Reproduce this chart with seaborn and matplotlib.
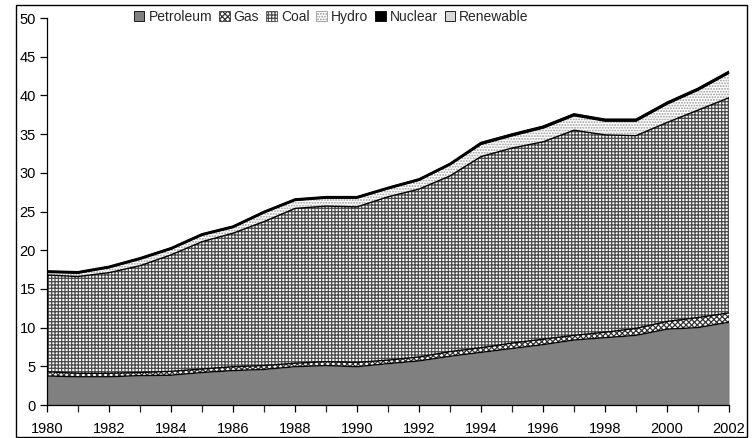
import numpy as np
import pandas as pd
import seaborn as sns
import matplotlib.pyplot as plt
from matplotlib.patches import Patch, Rectangle

years = list(range(1980, 2003))
petroleum = [3.75, 3.65, 3.65, 3.8, 3.85, 4.2, 4.45, 4.6, 4.95, 5.1, 4.95, 5.35,
             5.7, 6.3, 6.8, 7.3, 7.8, 8.4, 8.7, 9.0, 9.8, 10.0, 10.7]
gas = [0.55, 0.45, 0.45, 0.4, 0.5, 0.45, 0.5, 0.5, 0.45, 0.5, 0.55, 0.45,
       0.5, 0.6, 0.6, 0.7, 0.7, 0.6, 0.7, 0.9, 1.0, 1.3, 1.2]
coal = [12.5, 12.5, 13.0, 13.8, 15.05, 16.45, 17.25, 18.6, 20.0, 20.1, 20.1, 21.1,
        21.7, 22.7, 24.7, 25.2, 25.5, 26.5, 25.5, 24.9, 25.7, 26.8, 27.8]
hydro = [0.35, 0.45, 0.65, 0.85, 0.75, 0.85, 0.75, 1.15, 1.05, 1.05, 1.15, 1.05,
         1.15, 1.45, 1.6, 1.6, 1.8, 1.9, 1.8, 1.9, 2.4, 2.6, 3.2]
nuclear = [0.1, 0.1, 0.1, 0.1, 0.1, 0.1, 0.1, 0.1, 0.1, 0.1, 0.1, 0.1,
           0.1, 0.1, 0.15, 0.15, 0.15, 0.15, 0.15, 0.15, 0.15, 0.15, 0.15]
renewable = [0.05] * 23

names = ["Petroleum", "Gas", "Coal", "Hydro", "Nuclear", "Renewable"]
faces = ["#808080", "white", "white", "white", "black", "#d8d8d8"]
hatches = [None, "xxxxxx", "+++++", "......", None, None]
hcolors = ["#808080", "#333333", "#4a4a4a", "#9a9a9a", "black", "#d8d8d8"]

sns.set_style("ticks")
plt.rcParams["font.family"] = ["Liberation Sans", "DejaVu Sans"]
plt.rcParams["hatch.linewidth"] = 0.9

df = pd.DataFrame({"year": years, "Petroleum": petroleum, "Gas": gas, "Coal": coal,
                   "Hydro": hydro, "Nuclear": nuclear, "Renewable": renewable})
cum = df[names].cumsum(axis=1)

fig = plt.figure(figsize=(7.55, 4.38), dpi=100)
ax = fig.add_axes([0.0623, 0.0753, 0.9033, 0.8836])

lower = np.zeros(len(years))
for i, n in enumerate(names):
    upper = cum[n].values
    ax.fill_between(years, lower, upper, facecolor=faces[i], edgecolor=hcolors[i],
                    hatch=hatches[i], linewidth=0)
    lower = upper

for i, n in enumerate(names):
    lw = 1.0 if i < 3 else 1.3
    sns.lineplot(x=df["year"], y=cum[n], color="black", linewidth=lw, ax=ax)
ax.axvline(2002, color="#555555", linewidth=0.8, ymax=cum["Renewable"].iloc[-1] / 50)

ax.set_xlim(1980, 2002)
ax.set_ylim(0, 50)
ax.set_xticks(range(1980, 2003, 2))
ax.set_xticks(range(1980, 2003), minor=True)
ax.set_yticks(range(0, 51, 5))
ax.set_xlabel("")
ax.set_ylabel("")
ax.tick_params(axis="both", labelsize=10.5, colors="black", length=5, width=0.9, direction="out")
ax.tick_params(axis="x", which="minor", length=5, width=0.9)
ax.tick_params(axis="x", pad=7)
ax.tick_params(axis="y", pad=3)
for s in ["top", "right"]:
    ax.spines[s].set_visible(False)
for s in ["left", "bottom"]:
    ax.spines[s].set_color("black")
    ax.spines[s].set_linewidth(0.9)

handles = [Patch(facecolor=faces[i], edgecolor=hcolors[i] if hatches[i] else "black",
                 hatch=hatches[i], linewidth=0.6) for i in range(len(names))]
leg = ax.legend(handles, names, loc="upper center", bbox_to_anchor=(0.417, 1.035), ncol=6,
                frameon=False, fontsize=10, handlelength=0.75, handleheight=0.75,
                handletextpad=0.3, columnspacing=0.5, borderaxespad=0)

fig.patches.append(Rectangle((16 / 755, 1 / 438), 731 / 755, 432 / 438, transform=fig.transFigure,
                             fill=False, edgecolor="black", linewidth=1.0))

fig.savefig("out.png", dpi=100)
